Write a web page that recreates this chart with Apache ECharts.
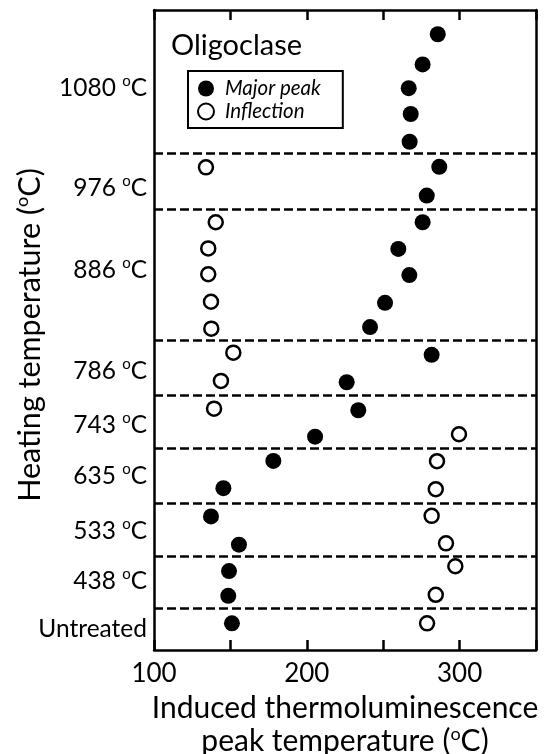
<!DOCTYPE html>
<html>
<head>
<meta charset="utf-8">
<script src="https://cdn.jsdelivr.net/npm/echarts@6/dist/echarts.min.js"></script>
<style>html,body{margin:0;padding:0;background:#fff}#c{width:545px;height:754px}</style>
</head>
<body>
<div id="c"></div>
<script>
// Heating temperature groups (bottom to top) and their label positions (row units)
const heatLabels = ['Untreated', '438', '533', '635', '743', '786', '886', '976', '1080'];
const labelPos = [0.79, 2.59, 4.46, 6.53, 8.44, 10.46, 14.25, 17.33, 21.08];
// Group separators (row units)
const boundaries = [1.55, 3.50, 5.51, 7.56, 9.54, 11.61, 16.53, 18.61];
// Major peak: TL peak temperature (°C) and row position
const majorX = [151, 148.6, 149.1, 155.6, 137.3, 145.4, 178.1, 205.4, 233.7, 226.1, 281.7, 241.4, 251.2, 267.1, 259.9, 275.8, 278.5, 286.7, 267.3, 268.0, 266.7, 275.8, 285.7];
const majorY = [1.00, 2.03, 2.96, 3.95, 5.01, 6.07, 7.09, 8.00, 8.99, 10.04, 11.07, 12.11, 13.02, 14.06, 15.04, 16.04, 17.04, 18.12, 19.06, 20.10, 21.07, 21.96, 23.09];
// Inflection
const inflX = [278.7, 284.4, 297.2, 291.1, 281.7, 284.4, 285.2, 299.6, 139.3, 143.8, 151.9, 137.5, 137.3, 135.5, 135.5, 140.4, 134.0];
const inflY = [1.00, 2.07, 3.14, 4.00, 5.03, 6.03, 7.08, 8.09, 9.05, 10.09, 11.15, 12.05, 13.06, 14.09, 15.06, 16.04, 18.10];
const xTickLabels = [100, 200, 300];

const FONT = 'Lato';
const chart = echarts.init(document.getElementById('c'), null, {renderer: 'canvas'});
const zip = (a, b) => a.map((v, i) => [v, b[i]]);

chart.setOption({
  animation: false,
  backgroundColor: '#fff',
  textStyle: {fontFamily: FONT, color: '#000'},
  title: {
    text: 'Oligoclase', left: 166, top: 26,
    textStyle: {fontFamily: FONT, fontSize: 29, fontWeight: 'normal', color: '#000'}
  },
  legend: {
    left: 188, top: 71, orient: 'vertical',
    borderColor: '#000', borderWidth: 2, borderRadius: 0,
    padding: [6, 22, 5, 9], itemGap: 0,
    itemWidth: 16, itemHeight: 16,
    textStyle: {fontFamily: FONT, fontSize: 20.5, fontStyle: 'italic', color: '#000', lineHeight: 23, padding: [0, 0, 0, 6]},
    data: ['Major peak', 'Inflection']
  },
  grid: {left: 154, right: 9, top: 10, bottom: 104, containLabel: false, outerBoundsMode: 'none'},
  xAxis: [{
    type: 'value', min: 100, max: 350, interval: 50, position: 'bottom',
    axisLine: {show: true, onZero: false, lineStyle: {color: '#000', width: 2.5}},
    axisTick: {show: true, inside: true, length: 10, lineStyle: {color: '#000', width: 2.5}},
    splitLine: {show: false},
    axisLabel: {
      margin: 11, fontSize: 26, color: '#000', fontFamily: FONT,
      formatter: v => xTickLabels.includes(v) ? String(v) : ''
    },
    name: '{n|Induced thermoluminescence}\n{n|peak temperature (}{s|o}{n|C)}',
    nameLocation: 'middle', nameGap: 42,
    nameTextStyle: {
      rich: {
        n: {fontSize: 30, fontFamily: FONT, color: '#000', lineHeight: 33},
        s: {fontSize: 18, fontFamily: FONT, color: '#000', verticalAlign: 'top', lineHeight: 33}
      }
    }
  }, {
    type: 'value', min: 100, max: 350, interval: 50, position: 'top',
    axisLine: {show: true, onZero: false, lineStyle: {color: '#000', width: 2.5}},
    axisTick: {show: true, inside: true, length: 10, lineStyle: {color: '#000', width: 2.5}},
    axisLabel: {show: false}, splitLine: {show: false}
  }],
  yAxis: [{
    type: 'value', min: 0, max: 24, position: 'left',
    axisLine: {show: true, onZero: false, lineStyle: {color: '#000', width: 2.5}},
    axisTick: {show: false}, splitLine: {show: false},
    axisLabel: {
      show: true, margin: 7, customValues: labelPos,
      formatter: function (v) {
        let i = labelPos.findIndex(p => Math.abs(p - v) < 1e-6);
        if (i < 0) return '';
        const t = heatLabels[i];
        return t === 'Untreated' ? '{n|Untreated}' : '{n|' + t + ' }{s|o}{n|C}';
      },
      rich: {
        n: {fontSize: 24.5, fontFamily: FONT, color: '#000', lineHeight: 28},
        s: {fontSize: 15, fontFamily: FONT, color: '#000', verticalAlign: 'top', lineHeight: 28}
      }
    }
  }, {
    type: 'value', min: 0, max: 24, position: 'right',
    axisLine: {show: true, onZero: false, lineStyle: {color: '#000', width: 2.5}},
    axisTick: {show: false}, axisLabel: {show: false}, splitLine: {show: false}
  }],
  graphic: [{
    type: 'text', x: 30, y: 335, rotation: Math.PI / 2,
    style: {
      text: '{n|Heating temperature (}{s|o}{n|C)}',
      align: 'center', verticalAlign: 'middle',
      rich: {
        n: {fontSize: 30.5, fontFamily: FONT, fill: '#000', lineHeight: 34},
        s: {fontSize: 18, fontFamily: FONT, fill: '#000', verticalAlign: 'top', lineHeight: 34}
      }
    }
  }],
  series: [{
    name: 'Major peak', type: 'scatter', symbol: 'circle', symbolSize: 16,
    itemStyle: {color: '#000', opacity: 1},
    data: zip(majorX, majorY),
    markLine: {
      silent: true, symbol: ['none', 'none'], animation: false,
      label: {show: false},
      lineStyle: {color: '#000', type: [9, 4], width: 2.5},
      data: boundaries.map(b => ({yAxis: b}))
    },
    z: 3
  }, {
    name: 'Inflection', type: 'scatter', symbol: 'circle', symbolSize: 14,
    itemStyle: {color: '#fff', borderColor: '#000', borderWidth: 2.5, opacity: 1},
    data: zip(inflX, inflY),
    z: 3
  }]
});
</script>
</body>
</html>
